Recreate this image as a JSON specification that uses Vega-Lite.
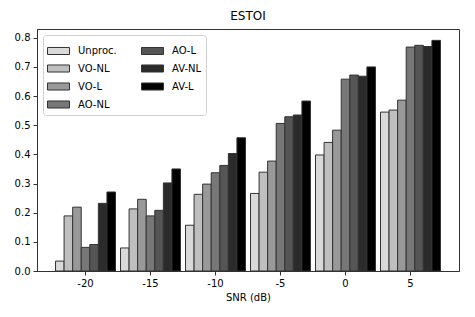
{
  "$schema": "https://vega.github.io/schema/vega-lite/v6.json",
  "autosize": {"type": "none"},
  "width": 422,
  "height": 242,
  "padding": {"left": 37, "top": 29, "right": 16, "bottom": 46},
  "title": {"text": "ESTOI", "fontSize": 12, "fontWeight": "normal", "font": "DejaVu Sans", "color": "#000", "offset": 6},
  "data": {
    "values": [
      {"snr": -20, "method": "Unproc.", "estoi": 0.034},
      {"snr": -20, "method": "VO-NL", "estoi": 0.189},
      {"snr": -20, "method": "VO-L", "estoi": 0.219},
      {"snr": -20, "method": "AO-NL", "estoi": 0.081},
      {"snr": -20, "method": "AO-L", "estoi": 0.091},
      {"snr": -20, "method": "AV-NL", "estoi": 0.232},
      {"snr": -20, "method": "AV-L", "estoi": 0.271},
      {"snr": -15, "method": "Unproc.", "estoi": 0.079},
      {"snr": -15, "method": "VO-NL", "estoi": 0.213},
      {"snr": -15, "method": "VO-L", "estoi": 0.246},
      {"snr": -15, "method": "AO-NL", "estoi": 0.189},
      {"snr": -15, "method": "AO-L", "estoi": 0.208},
      {"snr": -15, "method": "AV-NL", "estoi": 0.302},
      {"snr": -15, "method": "AV-L", "estoi": 0.350},
      {"snr": -10, "method": "Unproc.", "estoi": 0.157},
      {"snr": -10, "method": "VO-NL", "estoi": 0.263},
      {"snr": -10, "method": "VO-L", "estoi": 0.298},
      {"snr": -10, "method": "AO-NL", "estoi": 0.337},
      {"snr": -10, "method": "AO-L", "estoi": 0.362},
      {"snr": -10, "method": "AV-NL", "estoi": 0.403},
      {"snr": -10, "method": "AV-L", "estoi": 0.457},
      {"snr": -5, "method": "Unproc.", "estoi": 0.266},
      {"snr": -5, "method": "VO-NL", "estoi": 0.339},
      {"snr": -5, "method": "VO-L", "estoi": 0.377},
      {"snr": -5, "method": "AO-NL", "estoi": 0.506},
      {"snr": -5, "method": "AO-L", "estoi": 0.529},
      {"snr": -5, "method": "AV-NL", "estoi": 0.535},
      {"snr": -5, "method": "AV-L", "estoi": 0.583},
      {"snr": 0, "method": "Unproc.", "estoi": 0.398},
      {"snr": 0, "method": "VO-NL", "estoi": 0.441},
      {"snr": 0, "method": "VO-L", "estoi": 0.483},
      {"snr": 0, "method": "AO-NL", "estoi": 0.658},
      {"snr": 0, "method": "AO-L", "estoi": 0.672},
      {"snr": 0, "method": "AV-NL", "estoi": 0.668},
      {"snr": 0, "method": "AV-L", "estoi": 0.700},
      {"snr": 5, "method": "Unproc.", "estoi": 0.545},
      {"snr": 5, "method": "VO-NL", "estoi": 0.552},
      {"snr": 5, "method": "VO-L", "estoi": 0.586},
      {"snr": 5, "method": "AO-NL", "estoi": 0.768},
      {"snr": 5, "method": "AO-L", "estoi": 0.774},
      {"snr": 5, "method": "AV-NL", "estoi": 0.770},
      {"snr": 5, "method": "AV-L", "estoi": 0.791}
    ]
  },
  "mark": {"type": "bar", "stroke": "#333", "strokeWidth": 1},
  "encoding": {
    "x": {
      "field": "snr", "type": "ordinal",
      "scale": {"paddingInner": 0.077, "paddingOuter": 0.285},
      "axis": {"labelAngle": 0, "title": "SNR (dB)", "titleFontWeight": "normal", "titleFontSize": 10, "titlePadding": 4, "labelFontSize": 10}
    },
    "xOffset": {
      "field": "method", "type": "nominal",
      "sort": ["Unproc.", "VO-NL", "VO-L", "AO-NL", "AO-L", "AV-NL", "AV-L"],
      "scale": {"paddingInner": 0, "paddingOuter": 0}
    },
    "y": {
      "field": "estoi", "type": "quantitative",
      "scale": {"domain": [0, 0.83], "nice": false},
      "axis": {"title": null, "values": [0, 0.1, 0.2, 0.3, 0.4, 0.5, 0.6, 0.7, 0.8], "format": ".1f", "grid": false, "labelFontSize": 10}
    },
    "color": {
      "field": "method", "type": "nominal",
      "scale": {
        "domain": ["Unproc.", "VO-NL", "VO-L", "AO-NL", "AO-L", "AV-NL", "AV-L"],
        "range": ["#d9d9d9", "#bfbfbf", "#999999", "#777777", "#555555", "#2b2b2b", "#000000"]
      },
      "legend": {
        "orient": "none", "legendX": 6, "legendY": 6,
        "columns": 2, "title": null,
        "symbolType": "M-1,-0.32H1V0.32H-1Z", "symbolSize": 484,
        "symbolStrokeColor": "#333", "symbolStrokeWidth": 1, "symbolOpacity": 1,
        "labelFontSize": 10, "labelFont": "DejaVu Sans", "labelColor": "#000",
        "labelOffset": 8,
        "padding": 4, "fillColor": "white", "strokeColor": "#d0d0d0", "cornerRadius": 3,
        "rowPadding": 0, "columnPadding": 22
      }
    }
  },
  "config": {
    "font": "DejaVu Sans",
    "view": {"stroke": "#333", "strokeWidth": 1},
    "axis": {"domainColor": "#333", "tickColor": "#333", "labelColor": "#000", "titleColor": "#000", "labelFont": "DejaVu Sans", "titleFont": "DejaVu Sans", "tickSize": 4, "labelPadding": 3}
  }
}
